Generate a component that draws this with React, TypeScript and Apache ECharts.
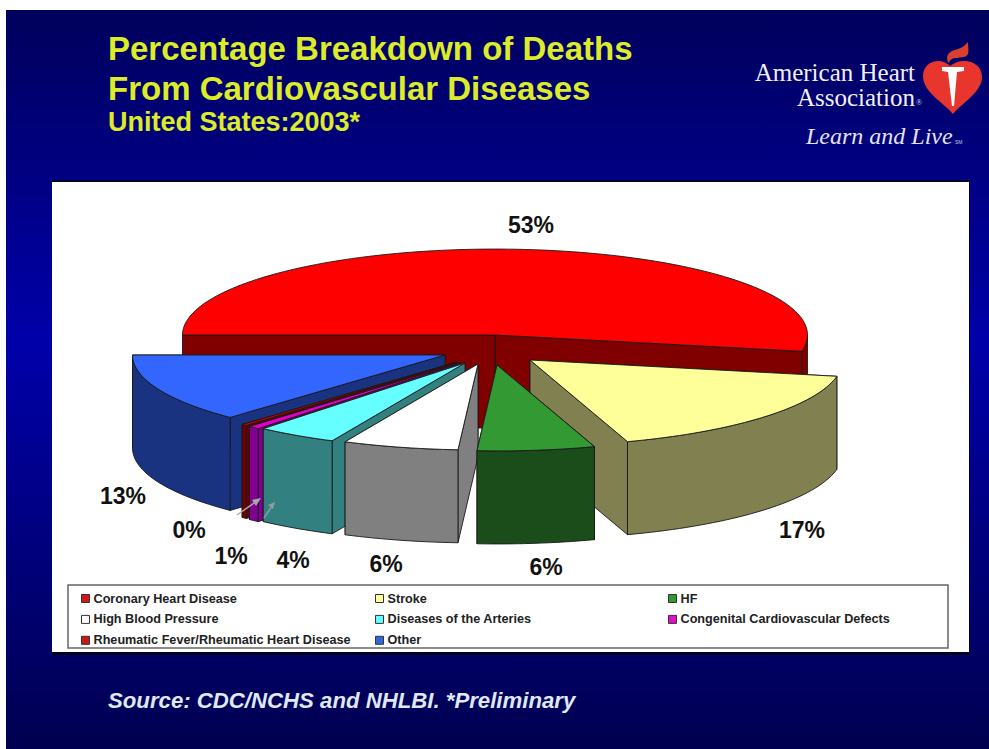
import React, { useEffect, useRef } from "react";
import * as echarts from "echarts";

const categories = [
  "Coronary Heart Disease",
  "Stroke",
  "HF",
  "High Blood Pressure",
  "Diseases of the Arteries",
  "Congenital Cardiovascular Defects",
  "Rheumatic Fever/Rheumatic Heart Disease",
  "Other",
];
const values = [53.3, 17, 6.1, 6, 4.2, 0.6, 0.3, 13];
const topColors = ["#ff0000", "#ffff99", "#339933", "#ffffff", "#66ffff", "#e000c8", "#c00000", "#3366ff"];
const wallColors = ["#800000", "#808050", "#1a4d1a", "#808080", "#338080", "#800090", "#700000", "#1a3380"];
const legendColors = ["#d01818", "#ffff99", "#339933", "#ffffff", "#66ffff", "#e010c8", "#c81818", "#3366dd"];

// layout of the drawing, not data
const explodeX = [0, 35, 2, -17, -30, -35, -38, -50];
const explodeY = [0, 25, 30, 29, 28, 28, 27, 20];
const drawOrder = [0, 1, 7, 6, 5, 4, 3, 2];
const labelX = [531, 802, 546, 386, 293, 231, 189, 123];
const labelY = [225, 530, 567, 564, 560, 556, 530, 496];
const CX = 495;
const CY = 335;
const RX = 312.5;
const TILT = 0.275;
const DEPTH = 93;
const STROKE = "#1a1a1a";

const total = values.reduce((a, b) => a + b, 0);
const toRad = (d: number) => (d * Math.PI) / 180;

function sliceAngles(i: number) {
  let start = 180;
  for (let k = 0; k < i; k++) start += (values[k] / total) * 360;
  return [start, start + (values[i] / total) * 360];
}

function renderSlice(i: number) {
  return (_params: any, api: any) => {
    const value = api.value(0);
    const [a0] = sliceAngles(i);
    const a1 = a0 + (value / total) * 360;
    const ax = CX + explodeX[i];
    const ay = CY + explodeY[i];
    const pt = (a: number): number[] => [
      ax + RX * Math.cos(toRad(a)),
      ay + RX * TILT * Math.sin(toRad(a)),
    ];
    const down = (p: number[]) => [p[0], p[1] + DEPTH];
    const arc = (s: number, e: number) => {
      const n = Math.max(2, Math.ceil((e - s) / 1.5));
      const out: number[][] = [];
      for (let k = 0; k <= n; k++) out.push(pt(s + ((e - s) * k) / n));
      return out;
    };
    const face = (a: number) => ({
      type: "polygon",
      shape: { points: [[ax, ay], pt(a), down(pt(a)), [ax, ay + DEPTH]] },
      style: { fill: wallColors[i], stroke: STROKE, lineWidth: 0.9 },
    });
    const children: any[] = [];
    const mid = (a0 + a1) / 2;
    if (Math.cos(toRad(mid)) < 0) children.push(face(a1), face(a0));
    else children.push(face(a0), face(a1));
    // front-facing part of the outer wall: angles whose sine is positive
    const ranges = [[0, 180], [360, 540]];
    for (const [lo, hi] of ranges) {
      const s = Math.max(a0, lo);
      const e = Math.min(a1, hi);
      if (e > s) {
        const top = arc(s, e);
        children.push({
          type: "polygon",
          shape: { points: [...top, ...top.slice().reverse().map(down)] },
          style: { fill: wallColors[i], stroke: STROKE, lineWidth: 0.9 },
        });
      }
    }
    children.push({
      type: "polygon",
      shape: { points: [[ax, ay], ...arc(a0, a1)] },
      style: { fill: topColors[i], stroke: STROKE, lineWidth: 0.9 },
    });
    children.push({
      type: "text",
      style: {
        text: `${Math.round((value / total) * 100)}%`,
        x: labelX[i],
        y: labelY[i],
        align: "center",
        verticalAlign: "middle",
        font: 'bold 23px "Liberation Sans", Arial, sans-serif',
        fill: "#111111",
      },
    });
    return { type: "group", children };
  };
}

const heart =
  "M953 114 C944 103 923 92 923 76 C923 66 931 61 938 61 C943 61 947 63 950 66 C954 63 958 61 964 61 C974 61 982 67 982 77 C982 92 962 103 953 114 Z";
const flame =
  "M948 62 C945 55 950 51 955 50 C959 49 964 47 968 42 C968 47 969 50 968 54 C966 58 960 57 957 58 C953 58 950 59 949 63 Z";
const torch =
  "M942 67 L964 67 L964 71 L957 72 L954 106 L952 106 L948 72 L942 71 Z";
echarts.graphic.registerShape("ahaHeart", echarts.graphic.extendPath(heart, {}));
echarts.graphic.registerShape("ahaFlame", echarts.graphic.extendPath(flame, {}));
echarts.graphic.registerShape("ahaTorch", echarts.graphic.extendPath(torch, {}));

const legendFont = {
  fontFamily: '"Liberation Sans", Arial, sans-serif',
  fontWeight: "bold" as const,
  fontSize: 12.65,
  color: "#222222",
};
const legendColumn = (left: number, names: string[]) => ({
  orient: "vertical" as const,
  left,
  top: 592,
  padding: 0,
  itemWidth: 8,
  itemHeight: 8,
  itemGap: 7.9,
  icon: "rect",
  selectedMode: false,
  data: names,
  textStyle: { ...legendFont, padding: [0, 0, 0, -1] },
  itemStyle: { borderColor: "#333333", borderWidth: 1 },
});

const sans = '"Liberation Sans", Arial, sans-serif';
const serif = '"Liberation Serif", "Times New Roman", serif';

function buildOption() {
  return {
    animation: false,
    backgroundColor: "#ffffff",
    tooltip: { show: false },
    legend: [
      legendColumn(81, [categories[0], categories[3], categories[6]]),
      legendColumn(375, [categories[1], categories[4], categories[7]]),
      legendColumn(668, [categories[2], categories[5]]),
    ],
    series: categories.map((name, i) => ({
      type: "custom",
      name,
      coordinateSystem: "none",
      z: 10 + drawOrder.indexOf(i),
      silent: true,
      itemStyle: { color: legendColors[i] },
      data: [[values[i]]],
      renderItem: renderSlice(i),
    })),
    graphic: [
      {
        type: "rect",
        z: -10,
        shape: { x: 6, y: 10, width: 983, height: 739 },
        style: {
          fill: new echarts.graphic.LinearGradient(0, 0, 0, 1, [
            { offset: 0, color: "#00005c" },
            { offset: 0.45, color: "#0000aa" },
            { offset: 1, color: "#000050" },
          ]),
        },
      },
      { type: "rect", z: -9, shape: { x: 52, y: 180, width: 918, height: 475 }, style: { fill: "#000022" } },
      { type: "rect", z: -8, shape: { x: 52, y: 182, width: 917, height: 470 }, style: { fill: "#ffffff" } },
      {
        type: "rect",
        z: -7,
        shape: { x: 68, y: 585, width: 880, height: 63 },
        style: { fill: "#ffffff", stroke: "#666666", lineWidth: 1.5 },
      },
      ...[
        ["Percentage Breakdown of Deaths", 48, 33],
        ["From Cardiovascular Diseases", 88, 33],
        ["United States:2003*", 122, 27],
      ].map(([text, y, size]) => ({
        type: "text",
        z: 5,
        style: {
          text,
          x: 108,
          y,
          align: "left",
          verticalAlign: "middle",
          font: `bold ${size}px ${sans}`,
          fill: "#dcec28",
          shadowColor: "#000000",
          shadowBlur: 2,
          shadowOffsetX: 1,
          shadowOffsetY: 1,
        },
      })),
      {
        type: "text",
        z: 5,
        style: {
          text: "Source: CDC/NCHS and NHLBI. *Preliminary",
          x: 108,
          y: 700,
          align: "left",
          verticalAlign: "middle",
          font: `italic bold 22.2px ${sans}`,
          fill: "#dfe8f4",
        },
      },
      {
        type: "text",
        z: 5,
        style: { text: "American Heart", x: 915, y: 72, align: "right", verticalAlign: "middle", font: `25px ${serif}`, fill: "#f0f0f5" },
      },
      {
        type: "text",
        z: 5,
        style: { text: "Association", x: 915, y: 97, align: "right", verticalAlign: "middle", font: `25px ${serif}`, fill: "#f0f0f5" },
      },
      {
        type: "text",
        z: 5,
        style: { text: "®", x: 916, y: 102, align: "left", verticalAlign: "middle", font: `8px ${serif}`, fill: "#d8d8e8" },
      },
      {
        type: "text",
        z: 5,
        style: { text: "Learn and Live", x: 806, y: 136, align: "left", verticalAlign: "middle", font: `italic 24px ${serif}`, fill: "#e4e4f0" },
      },
      {
        type: "text",
        z: 5,
        style: { text: "SM", x: 955, y: 142, align: "left", verticalAlign: "middle", font: `5px ${sans}`, fill: "#c8c8e0" },
      },
      { type: "ahaHeart", z: 5, x: 0, y: 0, scaleX: 1, scaleY: 1, style: { fill: "#e8352e" } },
      { type: "ahaFlame", z: 5, x: 0, y: 0, scaleX: 1, scaleY: 1, style: { fill: "#d8402e" } },
      { type: "ahaTorch", z: 6, x: 0, y: 0, scaleX: 1, scaleY: 1, style: { fill: "#ffffff" } },
      // leader arrows for the 0% and 1% labels
      { type: "line", z: 50, shape: { x1: 237, y1: 515, x2: 257, y2: 501 }, style: { stroke: "#a8a8a8", lineWidth: 1.5 } },
      { type: "polygon", z: 50, shape: { points: [[261, 498], [252, 500], [256, 506]] }, style: { fill: "#a8a8a8" } },
      { type: "line", z: 50, shape: { x1: 264, y1: 518, x2: 272, y2: 506 }, style: { stroke: "#8aa0a0", lineWidth: 1.5 } },
      { type: "polygon", z: 50, shape: { points: [[275, 502], [268, 505], [273, 509]] }, style: { fill: "#8aa0a0" } },
    ],
  };
}

export default function App() {
  const ref = useRef<HTMLDivElement>(null);
  useEffect(() => {
    document.body.style.margin = "0";
    const chart = echarts.init(ref.current!, undefined, { renderer: "svg" });
    chart.setOption(buildOption() as any);
    return () => chart.dispose();
  }, []);
  return <div ref={ref} style={{ width: 989, height: 749 }} />;
}
